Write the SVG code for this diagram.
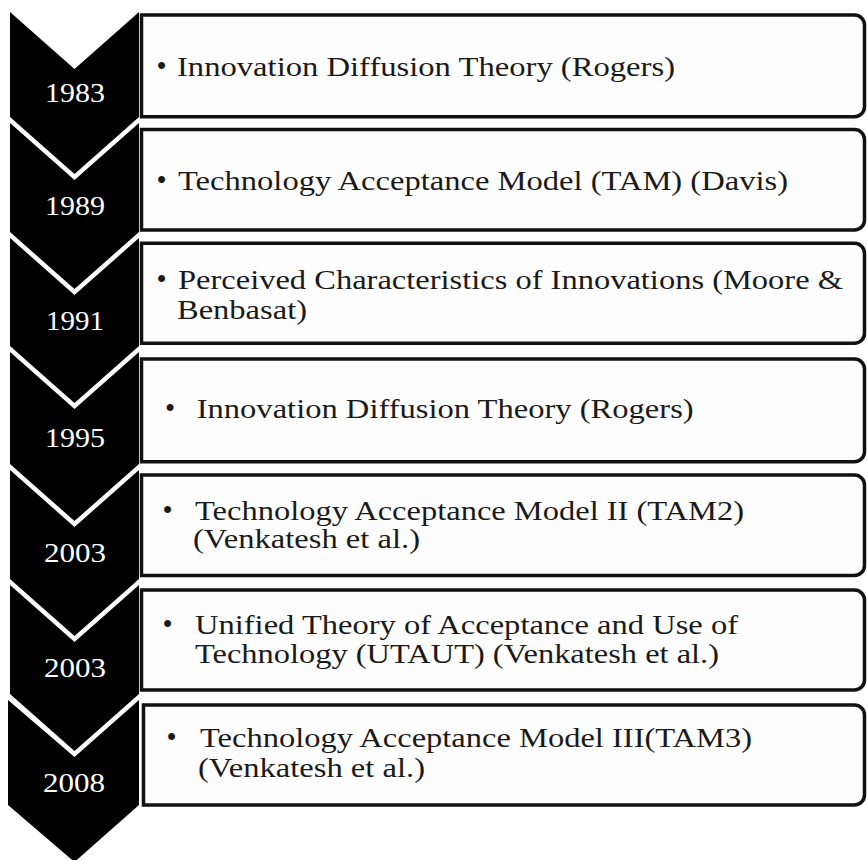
<svg xmlns="http://www.w3.org/2000/svg" width="867" height="860" viewBox="0 0 867 860">
<style>
.bg{fill:#ffffff}
.chev{fill:#000000}
.box{fill:#fdfdfd;stroke:#111111;stroke-width:3.5}
.yr{font-family:"Liberation Serif","Times New Roman",serif;font-size:27px;fill:#ffffff;text-anchor:middle}
.tx{font-family:"Liberation Serif","Times New Roman",serif;font-size:27.5px;fill:#1a1a1a}
.bul{font-family:"Liberation Serif","Times New Roman",serif;font-size:29px;fill:#1a1a1a;text-anchor:middle}
</style>
<rect class="bg" x="0" y="0" width="867" height="860"/>

<g id="row-1983">
  <path class="box" d="M141.5,15 H854.5 A10,10 0 0 1 864.5,25 V106.7 A10,10 0 0 1 854.5,116.7 H141.5 Z"/>
  <path class="chev" d="M10,12 L74.5,69 L139,12 L139,117 L74.5,174 L10,117 Z"/>
  <text class="yr" x="75" y="101.5" textLength="60" lengthAdjust="spacingAndGlyphs">1983</text>
  <text class="bul" x="161.5" y="76">•</text>
  <text class="tx" x="177" y="76" textLength="498" lengthAdjust="spacingAndGlyphs">Innovation Diffusion Theory (Rogers)</text>
</g>

<g id="row-1989">
  <path class="box" d="M141.5,129.5 H854.5 A10,10 0 0 1 864.5,139.5 V220 A10,10 0 0 1 854.5,230 H141.5 Z"/>
  <path class="chev" d="M10,123 L74.5,180 L139,123 L139,232 L74.5,289 L10,232 Z"/>
  <text class="yr" x="75" y="215" textLength="60" lengthAdjust="spacingAndGlyphs">1989</text>
  <text class="bul" x="161.5" y="189.5">•</text>
  <text class="tx" x="178" y="189.5" textLength="610" lengthAdjust="spacingAndGlyphs">Technology Acceptance Model (TAM) (Davis)</text>
</g>

<g id="row-1991">
  <path class="box" d="M141.5,243.3 H854.5 A10,10 0 0 1 864.5,253.3 V333.3 A10,10 0 0 1 854.5,343.3 H141.5 Z"/>
  <path class="chev" d="M10,238 L74.5,295 L139,238 L139,346 L74.5,403 L10,346 Z"/>
  <text class="yr" x="75" y="330" textLength="58" lengthAdjust="spacingAndGlyphs">1991</text>
  <text class="bul" x="161.5" y="288.5">•</text>
  <text class="tx" x="178" y="288.5" textLength="665" lengthAdjust="spacingAndGlyphs">Perceived Characteristics of Innovations (Moore &amp;</text>
  <text class="tx" x="177" y="318.5" textLength="130" lengthAdjust="spacingAndGlyphs">Benbasat)</text>
</g>

<g id="row-1995">
  <path class="box" d="M141.5,359 H854.5 A10,10 0 0 1 864.5,369 V451.7 A10,10 0 0 1 854.5,461.7 H141.5 Z"/>
  <path class="chev" d="M10,352 L74.5,409 L139,352 L139,464 L74.5,521 L10,464 Z"/>
  <text class="yr" x="75" y="446.5" textLength="60" lengthAdjust="spacingAndGlyphs">1995</text>
  <text class="bul" x="170" y="418.3">•</text>
  <text class="tx" x="196.7" y="418.3" textLength="497" lengthAdjust="spacingAndGlyphs">Innovation Diffusion Theory (Rogers)</text>
</g>

<g id="row-2003a">
  <path class="box" d="M141.5,475 H854.5 A10,10 0 0 1 864.5,485 V565.5 A10,10 0 0 1 854.5,575.5 H141.5 Z"/>
  <path class="chev" d="M10,470 L74.5,527 L139,470 L139,579 L74.5,636 L10,579 Z"/>
  <text class="yr" x="75" y="561.5" textLength="62" lengthAdjust="spacingAndGlyphs">2003</text>
  <text class="bul" x="167.5" y="520">•</text>
  <text class="tx" x="195" y="520" textLength="549" lengthAdjust="spacingAndGlyphs">Technology Acceptance Model II (TAM2)</text>
  <text class="tx" x="193" y="548.3" textLength="227" lengthAdjust="spacingAndGlyphs">(Venkatesh et al.)</text>
</g>

<g id="row-2003b">
  <path class="box" d="M141.5,590 H854.5 A10,10 0 0 1 864.5,600 V680 A10,10 0 0 1 854.5,690 H141.5 Z"/>
  <path class="chev" d="M10,585 L74.5,642 L139,585 L139,694 L74.5,751 L10,694 Z"/>
  <text class="yr" x="75" y="676.5" textLength="62" lengthAdjust="spacingAndGlyphs">2003</text>
  <text class="bul" x="167.5" y="634">•</text>
  <text class="tx" x="195" y="634" textLength="543" lengthAdjust="spacingAndGlyphs">Unified Theory of Acceptance and Use of</text>
  <text class="tx" x="195" y="663.3" textLength="524" lengthAdjust="spacingAndGlyphs">Technology (UTAUT) (Venkatesh et al.)</text>
</g>

<g id="row-2008">
  <path class="box" d="M143.5,705 H854.5 A10,10 0 0 1 864.5,715 V795 A10,10 0 0 1 854.5,805 H143.5 Z"/>
  <path class="chev" d="M8,700 L74.5,757 L139,700 L139,805 L74.5,862 L8,805 Z"/>
  <text class="yr" x="74" y="791.5" textLength="62" lengthAdjust="spacingAndGlyphs">2008</text>
  <text class="bul" x="171.5" y="747">•</text>
  <text class="tx" x="200" y="747" textLength="552" lengthAdjust="spacingAndGlyphs">Technology Acceptance Model III(TAM3)</text>
  <text class="tx" x="198" y="776.7" textLength="227" lengthAdjust="spacingAndGlyphs">(Venkatesh et al.)</text>
</g>
</svg>
